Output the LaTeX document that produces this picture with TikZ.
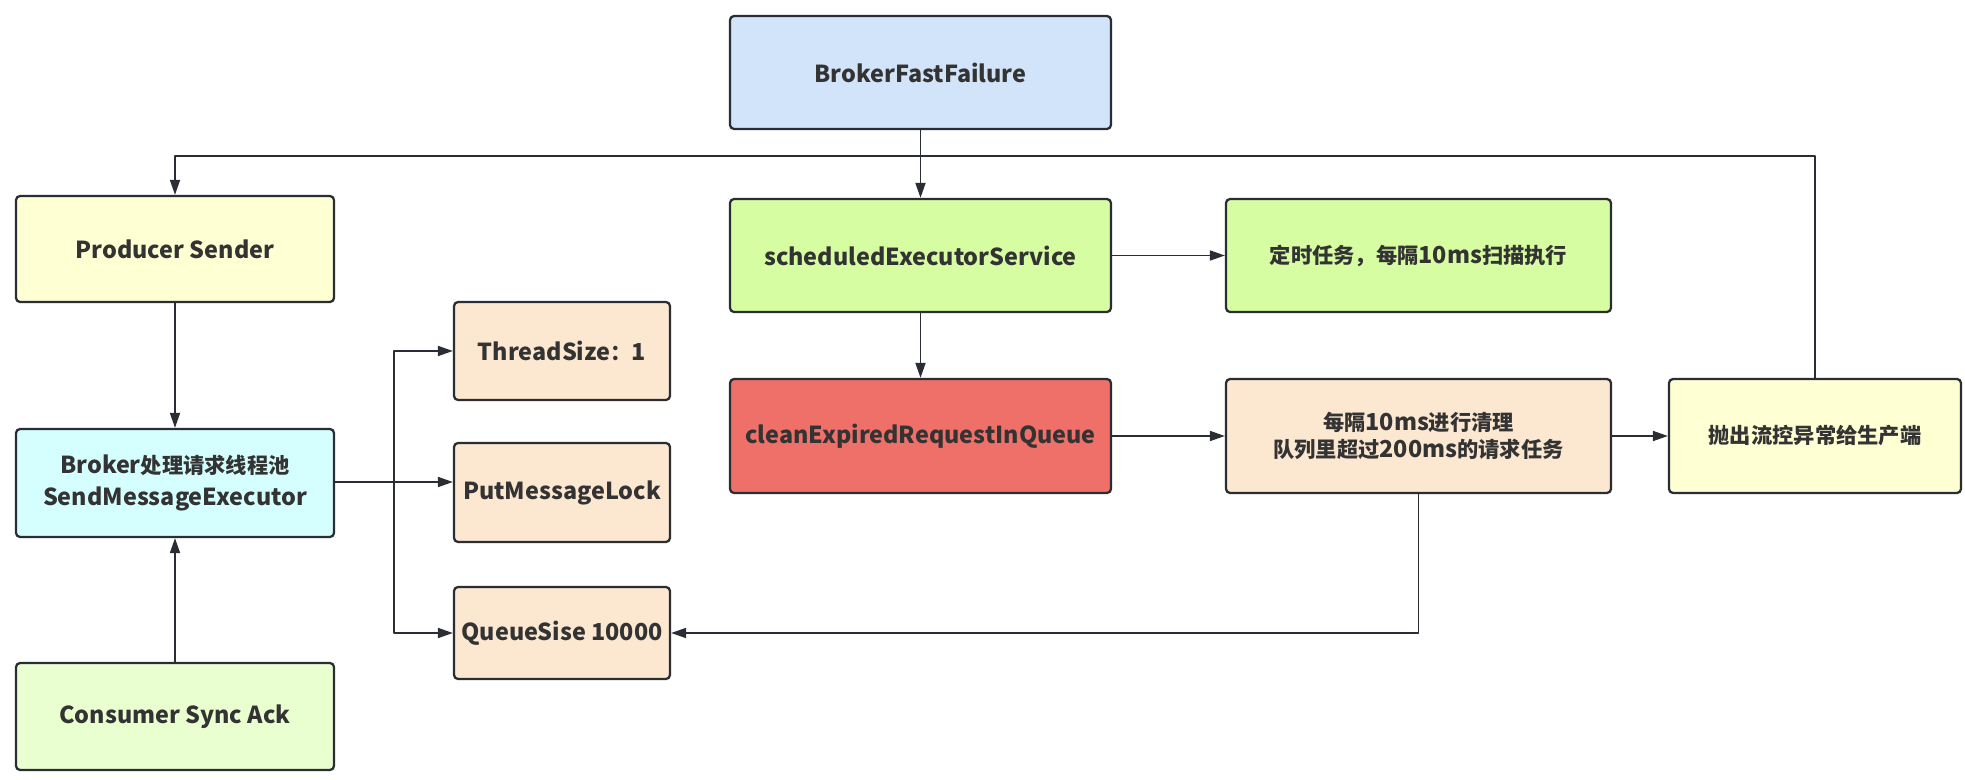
\documentclass[tikz,border=0pt]{standalone}
\usepackage{fontspec}
\setmainfont{Noto Sans CJK SC}
\newfontfamily\cjk{Noto Sans CJK SC}[Scale=0.91]
\usetikzlibrary{arrows.meta, positioning}

\definecolor{edgegray}{RGB}{42,45,51}
\definecolor{textgray}{RGB}{51,51,51}
\definecolor{bluefill}{RGB}{210,228,250}
\definecolor{yellowfill}{RGB}{255,255,212}
\definecolor{greenfill}{RGB}{214,253,162}
\definecolor{peachfill}{RGB}{252,231,208}
\definecolor{redfill}{RGB}{238,112,104}
\definecolor{cyanfill}{RGB}{213,255,255}
\definecolor{limefill}{RGB}{234,255,208}

\tikzset{
  box/.style={draw=edgegray, line width=1.3pt, rounded corners=0.8mm, text=textgray,
    align=center, inner sep=0pt, font=\fontsize{13.3}{18.5}\selectfont\bfseries},
  link/.style={->, line width=1pt, draw=edgegray},
}

\begin{document}
\begin{tikzpicture}[x=0.02cm, y=-0.02cm, >={Triangle[length=0.3cm,width=0.2cm]}, line join=round]
      \useasboundingbox (0,0) rectangle (1965,780);
      % top row
      \node[box, fill=bluefill, minimum width=7.62cm, minimum height=2.26cm] (bff) at (920.5,72.5) {BrokerFastFailure};
      \node[box, fill=greenfill, minimum width=7.62cm, minimum height=2.26cm] (sched) at (920.5,255.5) {scheduledExecutorService};
      \node[box, fill=greenfill, minimum width=7.7cm, minimum height=2.26cm] (timer) at (1418.5,255.5) {{\cjk 定时任务，每隔}10ms{\cjk 扫描执行}};
      \node[box, fill=redfill, minimum width=7.62cm, minimum height=2.28cm] (clean) at (920.5,436) {cleanExpiredRequestInQueue};
      \node[box, fill=peachfill, minimum width=7.7cm, minimum height=2.28cm, font=\fontsize{13.3}{15.5}\selectfont\bfseries] (purge) at (1418.5,436) {{\cjk 每隔}10ms{\cjk 进行清理}\\{\cjk 队列里超过}200ms{\cjk 的请求任务}};
      \node[box, fill=yellowfill, minimum width=5.84cm, minimum height=2.28cm] (throw) at (1815,436) {\cjk 抛出流控异常给生产端};
      % left column
      \node[box, fill=yellowfill, minimum width=6.36cm, minimum height=2.12cm] (producer) at (175,249) {Producer Sender};
      \node[box, fill=cyanfill, minimum width=6.36cm, minimum height=2.16cm] (broker) at (175,483) {Broker{\cjk 处理请求线程池}\\SendMessageExecutor};
      \node[box, fill=limefill, minimum width=6.36cm, minimum height=2.14cm] (consumer) at (175,716.5) {Consumer Sync Ack};
      % pool settings
      \node[box, fill=peachfill, minimum width=4.32cm, minimum height=1.96cm] (thread) at (562,351) {ThreadSize{\cjk ：}1};
      \node[box, fill=peachfill, minimum width=4.32cm, minimum height=1.98cm] (lock) at (562,492.5) {PutMessageLock};
      \node[box, fill=peachfill, minimum width=4.32cm, minimum height=1.84cm] (queue) at (562,633) {QueueSise 10000};

      \coordinate (topbus) at (175,156);
      \coordinate (fork) at (394,482);

      \draw[link] (bff) -- (sched);
      \draw[link] (throw.north) |- (topbus) -- (producer.north);
      \draw[link] (sched) -- (timer);
      \draw[link] (sched) -- (clean);
      \draw[link] (clean) -- (purge);
      \draw[link] (purge) -- (throw);
      \draw[link] (purge.south) |- (queue.east);
      \draw[link] (producer) -- (broker);
      \draw[link] (consumer) -- (broker);
      \draw[line width=1pt, draw=edgegray] (broker.east |- fork) -- (fork);
      \draw[link] (fork) |- (thread.west);
      \draw[link] (fork) -- (lock.west |- fork);
      \draw[link] (fork) |- (queue.west);
    \end{tikzpicture}
\end{document}
